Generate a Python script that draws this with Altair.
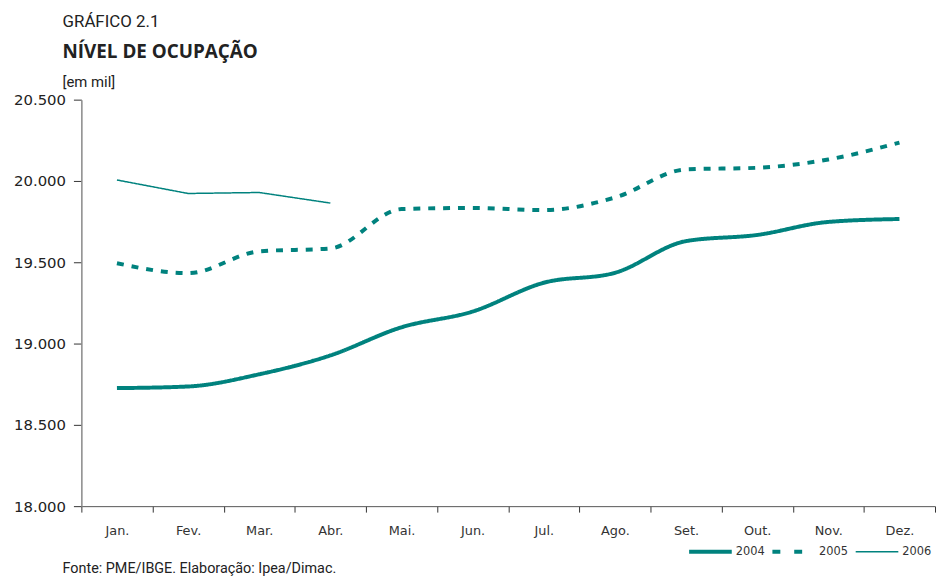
import altair as alt
import pandas as pd

months = ["Jan.", "Fev.", "Mar.", "Abr.", "Mai.", "Jun.", "Jul.", "Ago.", "Set.", "Out.", "Nov.", "Dez."]
v2004 = [18726, 18736, 18811, 18927, 19100, 19197, 19374, 19435, 19630, 19668, 19748, 19766]
v2005 = [19494, 19433, 19567, 19585, 19827, 19834, 19821, 19898, 20071, 20081, 20132, 20236]
v2006 = [20006, 19923, 19929, 19864]
years = ["2004", "2005", "2006"]
y_ticks = [18000, 18500, 19000, 19500, 20000, 20500]

title_top = "GRÁFICO 2.1"
title_main = "NÍVEL DE OCUPAÇÃO"
unit = "[em mil]"
source = "Fonte: PME/IBGE. Elaboração: Ipea/Dimac."

TEAL = "#00827e"
TXT_FONT = "Roboto"

rows = []
for yr, vals in zip(years, [v2004, v2005, v2006]):
    for m, v in zip(months, vals):
        rows.append({"mes": m, "valor": v, "ano": yr})
df = pd.DataFrame(rows)

styles = {
    "2004": dict(strokeWidth=4, strokeDash=[1, 0], interpolate="monotone"),
    "2005": dict(strokeWidth=4, strokeDash=[7, 8], interpolate="monotone"),
    "2006": dict(strokeWidth=1.5, strokeDash=[1, 0], interpolate="linear"),
}

base = alt.Chart(df).encode(
    x=alt.X("mes:N", sort=months,
            scale=alt.Scale(type="band", paddingInner=0, paddingOuter=0),
            bandPosition=0.5,
            axis=alt.Axis(title=None, labelAngle=0, tickBand="extent", tickSize=6,
                          tickColor="#333", domainColor="#555", domainWidth=1, grid=False,
                          labelPadding=13, labelFontSize=13, labelFont="DejaVu Sans",
                          labelColor="#333")),
    y=alt.Y("valor:Q",
            scale=alt.Scale(domain=[18000, 20500], nice=False, zero=False),
            axis=alt.Axis(title=None, values=y_ticks, tickSize=8, tickColor="#333",
                          domainColor="#888", domainWidth=1.5, labelPadding=8, grid=False,
                          labelFontSize=15, labelFont="DejaVu Sans", labelColor="#222",
                          labelExpr="replace(format(datum.value, ','), ',', '.')")),
)

layers = []
for yr in years:
    st = styles[yr]
    layers.append(
        base.transform_filter(alt.datum.ano == yr).mark_line(
            color=TEAL, strokeCap="butt", **st
        )
    )

# manual legend (bottom right)
leg_x0 = 613
leg_step = 84
leg_len = 43
leg_y = 456
for i, yr in enumerate(years):
    st = styles[yr]
    x0 = leg_x0 + i * leg_step
    dash = [8, 14] if yr == "2005" else st["strokeDash"]
    layers.append(
        alt.Chart(pd.DataFrame({"ano": [yr]})).mark_rule(
            color=TEAL, strokeWidth=st["strokeWidth"], strokeDash=dash, strokeCap="butt"
        ).encode(x=alt.value(x0), x2=alt.value(x0 + leg_len), y=alt.value(leg_y))
    )
    layers.append(
        alt.Chart(pd.DataFrame({"ano": [yr]})).mark_text(
            align="left", baseline="middle", fontSize=11.5, font="DejaVu Sans", color="#333"
        ).encode(text="ano:N", x=alt.value(x0 + leg_len + 4), y=alt.value(leg_y))
    )


def label(txt, y, size, weight="normal", font=TXT_FONT, color="#222"):
    return alt.Chart(pd.DataFrame({"t": [txt]})).mark_text(
        align="left", baseline="alphabetic", fontSize=size, fontWeight=weight,
        font=font, color=color
    ).encode(text="t:N", x=alt.value(-19), y=alt.value(y))


layers += [
    label(title_top, -73, 17),
    label(title_main, -42, 19, "bold", "Open Sans"),
    label(unit, -13, 15),
    label(source, 477, 14.5),
]

chart = alt.layer(*layers).properties(
    width=861, height=410,
    autosize=alt.AutoSizeParams(type="none"),
    padding={"left": 74, "top": 90, "right": 1, "bottom": 68},
).configure_view(stroke=None)

chart.save("out.html", embed_options={"renderer": "svg", "actions": False})
